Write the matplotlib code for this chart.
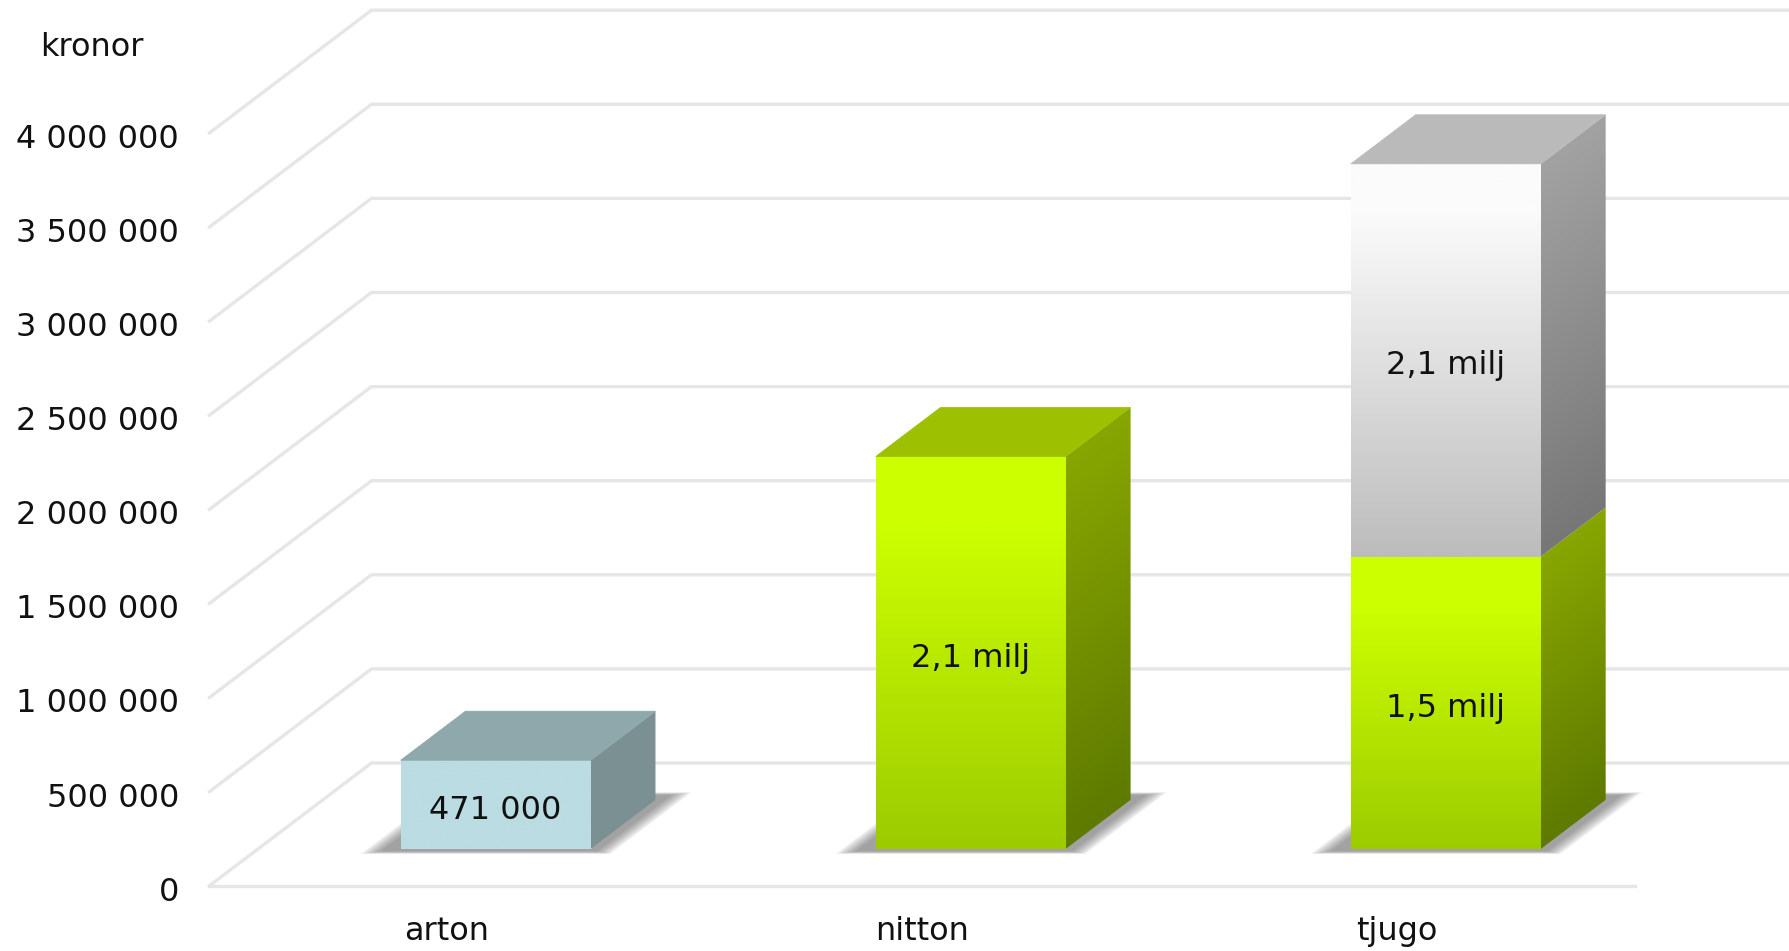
import numpy as np
import matplotlib
matplotlib.use('Agg')
import matplotlib.pyplot as plt
from matplotlib.patches import Polygon
from matplotlib.colors import to_rgb
from matplotlib.transforms import ScaledTranslation

# values
categories = ['arton', 'nitton', 'tjugo']
blue = [471000, 0, 0]
green = [0, 2085000, 1553000]
grey = [0, 0, 2087000]
blue_labels = ['471 000', '', '']
green_labels = ['', '2,1 milj', '1,5 milj']
grey_labels = ['', '', '2,1 milj']
yticks = [0, 500000, 1000000, 1500000, 2000000, 2500000, 3000000, 3500000, 4000000]

W, H = 1790, 951
PX_X = 475.1           # pixels per category
PX_Y = 94.1 / 500000   # pixels per krona
DX, DY = 162 / PX_X, 122.7 / PX_Y   # floor depth in data units
D0, D1 = 0.3, 0.7      # bar position in the depth of the floor
HALF = 0.2

fig = plt.figure(figsize=(W / 100, H / 100), dpi=100, facecolor='white')
left, base = 209.5, 885.7
ax = fig.add_axes([left / W, (H - base) / H, 1 - left / W, base / H])
xmax = -0.5 + (W - left) / PX_X
ymax = base / PX_Y


def stops(t, cols):
    pos = [c[0] for c in cols]
    rgb = np.array([to_rgb(c[1]) for c in cols])
    return np.dstack([np.interp(t, pos, rgb[:, i]) for i in range(3)])


def front_face(x, y0, y1, cols):
    xl = x + D0 * DX - HALF
    xr = x + D0 * DX + HALF
    b = y0 + D0 * DY
    t = y1 + D0 * DY
    v = np.linspace(0, 1, 256).reshape(-1, 1)
    ax.imshow(stops(v, cols), extent=(xl, xr, b, t), aspect='auto', origin='lower', zorder=4)


def side_face(x, y0, y1, cols):
    xr0 = x + D0 * DX + HALF
    xr1 = x + D1 * DX + HALF
    b0, t0 = y0 + D0 * DY, y1 + D0 * DY
    b1, t1 = y0 + D1 * DY, y1 + D1 * DY
    xs = np.linspace(0, 1, 80)
    ys = np.linspace(b0, t1, 300)
    xg, yg = np.meshgrid(xs, ys)
    v = (yg - b0 - xg * (b1 - b0)) / (y1 - y0)
    im = ax.imshow(stops(np.clip(v, 0, 1), cols), extent=(xr0, xr1, b0, t1),
                   aspect='auto', origin='lower', zorder=4)
    im.set_clip_path(Polygon([(xr0, b0), (xr1, b1), (xr1, t1), (xr0, t0)], transform=ax.transData))


def top_face(x, y1, col):
    pts = [(x + D0 * DX - HALF, y1 + D0 * DY), (x + D0 * DX + HALF, y1 + D0 * DY),
           (x + D1 * DX + HALF, y1 + D1 * DY), (x + D1 * DX - HALF, y1 + D1 * DY)]
    ax.add_patch(Polygon(pts, closed=True, fc=col, ec=col, lw=0.5, zorder=4))


def shadow(x):
    # soft shadow on the floor, stacked polygons to fake the blur
    for k in range(8):
        g = (7 - k) * 0.005
        l = x + D0 * DX - HALF - 0.035 - g
        r = x + D0 * DX + HALF + 0.02 + g
        d0 = D0 - 0.02 - g * 0.6
        d1 = D1 + 0.04 + g * 0.6
        pts = [(l - (D0 - d0) * DX, d0 * DY), (r - (D0 - d0) * DX, d0 * DY),
               (r + (d1 - D0) * DX, d1 * DY), (l + (d1 - D0) * DX, d1 * DY)]
        ax.add_patch(Polygon(pts, closed=True, fc='#555555', ec='none', alpha=0.09, zorder=2))


# walls and floor lines
grid_col = '#e6e6e6'
for v in yticks:
    ax.plot([-0.5, -0.5 + DX, xmax], [v, v + DY, v + DY], color=grid_col, lw=2.4, zorder=1,
            solid_joinstyle='miter', clip_on=False)
ax.plot([-0.5, 2.5], [0, 0], color=grid_col, lw=2.4, zorder=1, clip_on=False)

green_front = [(0, '#9ccb00'), (0.82, '#ccff00'), (1, '#ccff00')]
green_side = [(0, '#5e7a00'), (1, '#88a600')]
grey_front = [(0, '#bcbcbc'), (0.88, '#fbfbfb'), (1, '#fbfbfb')]
grey_side = [(0, '#777777'), (1, '#a2a2a2')]
blue_front = [(0, '#bbdce2'), (1, '#bbdce2')]
blue_side = [(0, '#7b9093'), (1, '#7b9093')]

for i in range(len(categories)):
    shadow(i)
    y = 0
    top = None
    for vals, labs, fc, sc, tc in [(blue, blue_labels, blue_front, blue_side, '#8fa8ac'),
                                   (green, green_labels, green_front, green_side, '#9dc000'),
                                   (grey, grey_labels, grey_front, grey_side, '#bababa')]:
        if vals[i] == 0:
            continue
        front_face(i, y, y + vals[i], fc)
        side_face(i, y, y + vals[i], sc)
        ax.annotate(labs[i], (i + D0 * DX, y + vals[i] / 2 + D0 * DY), xytext=(0, -4), textcoords='offset points',
                    ha='center', va='center', fontsize=23, color='#111111', zorder=6)
        y += vals[i]
        top = tc
    top_face(i, y, top)

ax.set_xlim(-0.5, xmax)
ax.set_ylim(0, ymax)
for s in ax.spines.values():
    s.set_visible(False)
ax.patch.set_alpha(0)
ax.set_xticks(range(len(categories)))
ax.set_xticklabels(categories, fontsize=23, color='#111111')
ax.set_yticks(yticks)
ax.set_yticklabels([f'{v:,}'.replace(',', ' ') for v in yticks], fontsize=23, color='#111111')
ax.tick_params(axis='both', length=0)
ax.tick_params(axis='y', pad=22)
ax.tick_params(axis='x', pad=22)
# the y labels sit a little under their lines in the original
# (has to come after tick_params, which resets the label transforms)
shift = ScaledTranslation(0, -3 / 100, fig.dpi_scale_trans)
for lab in ax.get_yticklabels():
    lab.set_transform(lab.get_transform() + shift)
ax.text(-0.5 - 169 / PX_X, 4455000, 'kronor', fontsize=23, color='#111111', ha='left', va='center', clip_on=False)

fig.savefig('out.png', dpi=100)
